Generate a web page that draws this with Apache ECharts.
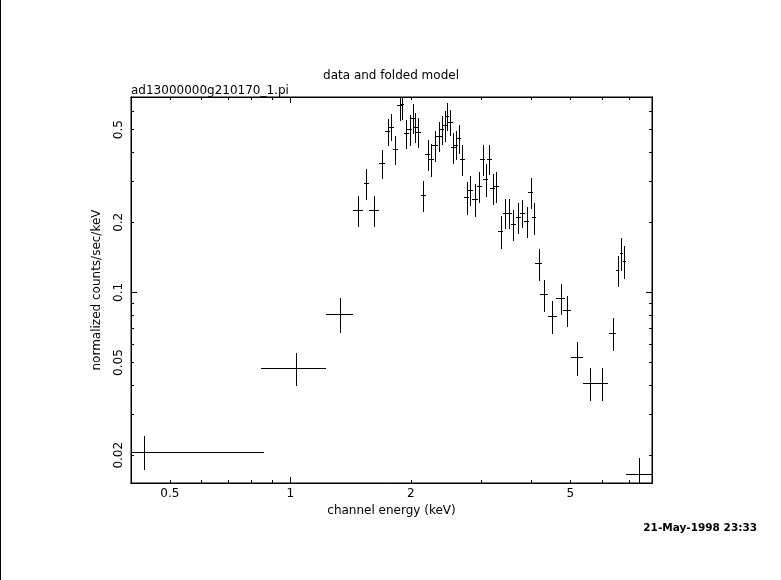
<!DOCTYPE html>
<html>
<head>
<meta charset="utf-8">
<script src="https://cdn.jsdelivr.net/npm/echarts@6/dist/echarts.min.js"></script>
<style>html,body{margin:0;padding:0;background:#fff;}#c{width:781px;height:580px;}</style>
</head>
<body>
<div id="c"></div>
<script>
var energy = [0.43, 1.035, 1.331, 1.4785, 1.549, 1.6206, 1.6913, 1.7506, 1.7872, 1.8288, 1.8735, 1.8974, 1.9484, 1.987, 2.0217, 2.0513, 2.087, 2.1478, 2.203, 2.2491, 2.2974, 2.3509, 2.3958, 2.4291, 2.4572, 2.5086, 2.5527, 2.5925, 2.6333, 2.6884, 2.757, 2.8147, 2.8922, 2.9648, 3.0234, 3.0761, 3.135, 3.2027, 3.2697, 3.349, 3.4428, 3.5171, 3.6051, 3.7104, 3.7969, 3.8942, 3.9836, 4.053, 4.1667, 4.3077, 4.5106, 4.7344, 4.9167, 5.2056, 5.5941, 6.0117, 6.3749, 6.5615, 6.702, 6.8189, 7.4353];
var energyErr = [0.43, 0.19, 0.103, 0.044, 0.026, 0.046, 0.03, 0.026, 0.024, 0.026, 0.026, 0.024, 0.028, 0.028, 0.028, 0.028, 0.03, 0.032, 0.032, 0.034, 0.034, 0.034, 0.03, 0.03, 0.03, 0.034, 0.034, 0.034, 0.036, 0.04, 0.04, 0.04, 0.045, 0.045, 0.042, 0.042, 0.045, 0.045, 0.048, 0.05, 0.055, 0.05, 0.055, 0.06, 0.055, 0.058, 0.055, 0.05, 0.077, 0.1, 0.11, 0.118, 0.11, 0.175, 0.225, 0.214, 0.13, 0.06, 0.06, 0.06, 0.55];
var rate = [0.02069, 0.04733, 0.08069, 0.2255, 0.2945, 0.2255, 0.3578, 0.4909, 0.5137, 0.4109, 0.6347, 0.6429, 0.4812, 0.5007, 0.5599, 0.5137, 0.4875, 0.2608, 0.3910, 0.3733, 0.4274, 0.4688, 0.5007, 0.5208, 0.5709, 0.5382, 0.4204, 0.4300, 0.4596, 0.3722, 0.2557, 0.2748, 0.2507, 0.2851, 0.3733, 0.3055, 0.3733, 0.2804, 0.2851, 0.1833, 0.2195, 0.2195, 0.1964, 0.2099, 0.2195, 0.2017, 0.2686, 0.2099, 0.1332, 0.0980, 0.0791, 0.0945, 0.0839, 0.0526, 0.04067, 0.04067, 0.0669, 0.1247, 0.1470, 0.1359, 0.01661];
var rateErr = [0.0034, 0.0077, 0.0135, 0.035, 0.0457, 0.035, 0.052, 0.065, 0.068, 0.060, 0.093, 0.095, 0.067, 0.077, 0.083, 0.076, 0.072, 0.040, 0.060, 0.059, 0.064, 0.069, 0.070, 0.080, 0.077, 0.070, 0.064, 0.061, 0.065, 0.056, 0.041, 0.041, 0.040, 0.043, 0.058, 0.049, 0.054, 0.043, 0.044, 0.029, 0.0325, 0.032, 0.030, 0.0315, 0.031, 0.031, 0.040, 0.033, 0.021, 0.0155, 0.0125, 0.0145, 0.0128, 0.0087, 0.0066, 0.0066, 0.0107, 0.0193, 0.0234, 0.0218, 0.0028];

var xLabels = [0.5, 1, 2, 5];
var xMajorTicks = [1];
var xMinorTicks = [0.5, 0.6, 0.7, 0.8, 0.9, 2, 3, 4, 5, 6, 7];
var yLabels = [0.02, 0.05, 0.1, 0.2, 0.5];
var yMajorTicks = [0.1];
var yMinorTicks = [0.02, 0.03, 0.04, 0.05, 0.06, 0.07, 0.08, 0.09, 0.2, 0.3, 0.4, 0.5, 0.6];

var X_MIN = 0.4, X_MAX = 8.0;
var Y_MIN = 0.0152, Y_MAX = 0.69;

var titleText = 'data and folded model';
var fileText = 'ad13000000g210170_1.pi';
var xName = 'channel energy (keV)';
var yName = 'normalized counts/sec/keV';
var dateText = '21-May-1998 23:33';

var data = energy.map(function (e, i) { return [e, energyErr[i], rate[i], rateErr[i]]; });

var FONT = 'DejaVu Sans';
var fmt = function (v) { return String(+(+v).toPrecision(6)); };

function xAxisDef(pos, ticks, len, labels) {
  return {
    type: 'log', logBase: 10, min: X_MIN, max: X_MAX, position: pos, gridIndex: 0,
    axisLine: { show: true, onZero: false, lineStyle: { color: '#000', width: 1 } },
    axisTick: { show: true, inside: true, length: len, customValues: ticks, lineStyle: { color: '#000', width: 1 } },
    axisLabel: labels ? { show: true, customValues: labels, formatter: fmt, margin: 5, color: '#000', fontSize: 12, fontFamily: FONT } : { show: false },
    splitLine: { show: false }, minorTick: { show: false }
  };
}
function yAxisDef(pos, ticks, len, labels) {
  return {
    type: 'log', logBase: 10, min: Y_MIN, max: Y_MAX, position: pos, gridIndex: 0,
    axisLine: { show: true, onZero: false, lineStyle: { color: '#000', width: 1 } },
    axisTick: { show: true, inside: true, length: len, customValues: ticks, lineStyle: { color: '#000', width: 1 } },
    axisLabel: labels ? { show: true, customValues: labels, formatter: fmt, rotate: 90, margin: 6, color: '#000', fontSize: 12, fontFamily: FONT } : { show: false },
    splitLine: { show: false }, minorTick: { show: false }
  };
}

var xa = [
  xAxisDef('bottom', xMajorTicks, 6, xLabels),
  xAxisDef('bottom', xMinorTicks, 3, null),
  xAxisDef('top', xMajorTicks, 6, null),
  xAxisDef('top', xMinorTicks, 3, null)
];
xa[0].name = xName; xa[0].nameLocation = 'middle'; xa[0].nameGap = 21;
xa[0].nameTextStyle = { color: '#000', fontSize: 12, fontFamily: FONT };
var ya = [
  yAxisDef('left', yMajorTicks, 6, yLabels),
  yAxisDef('left', yMinorTicks, 3, null),
  yAxisDef('right', yMajorTicks, 6, null),
  yAxisDef('right', yMinorTicks, 3, null)
];
ya[0].name = yName; ya[0].nameLocation = 'middle'; ya[0].nameGap = 28; ya[0].nameRotate = 90;
ya[0].nameTextStyle = { color: '#000', fontSize: 12, fontFamily: FONT };

var chart = echarts.init(document.getElementById('c'), null, { renderer: 'canvas' });
chart.setOption({
  animation: false,
  backgroundColor: '#fff',
  title: [
    { text: titleText, left: 386, top: 65, textAlign: 'center', textStyle: { color: '#000', fontSize: 12, fontWeight: 'normal', fontFamily: FONT } },
    { text: fileText, left: 126, top: 80, textStyle: { color: '#000', fontSize: 12, fontWeight: 'normal', fontFamily: FONT } },
    { text: dateText, right: 19, top: 518, textStyle: { color: '#000', fontSize: 10.5, fontWeight: 'bold', fontFamily: FONT } }
  ],
  grid: { left: 131, right: 129, top: 97, bottom: 97, show: true, borderColor: '#000', borderWidth: 1, backgroundColor: 'transparent', containLabel: false, outerBoundsMode: 'none' },
  xAxis: xa,
  yAxis: ya,
  graphic: [
    { type: 'line', shape: { x1: 0.5, y1: 0, x2: 0.5, y2: 580 }, style: { stroke: '#000', lineWidth: 1 } }
  ],
  series: [{
    type: 'custom',
    xAxisIndex: 0, yAxisIndex: 0,
    clip: true,
    encode: { x: 0, y: 2 },
    data: data,
    renderItem: function (params, api) {
      var e = api.value(0), de = api.value(1), v = api.value(2), dv = api.value(3);
      var lo = Math.max(e - de, X_MIN * 0.999);
      var hi = e + de;
      var vlo = Math.max(v - dv, Y_MIN * 0.9);
      var vhi = v + dv;
      var pL = api.coord([lo, v]), pR = api.coord([hi, v]);
      var pB = api.coord([e, vlo]), pT = api.coord([e, vhi]);
      var yc = Math.round(pL[1]) + 0.5;
      var xc = Math.round(pB[0]) + 0.5;
      var st = { stroke: '#000', lineWidth: 1 };
      return {
        type: 'group',
        children: [
          { type: 'line', shape: { x1: Math.round(pL[0]), y1: yc, x2: Math.round(pR[0]), y2: yc }, style: st },
          { type: 'line', shape: { x1: xc, y1: Math.round(pT[1]), x2: xc, y2: Math.round(pB[1]) }, style: st }
        ]
      };
    }
  }]
});
</script>
</body>
</html>
